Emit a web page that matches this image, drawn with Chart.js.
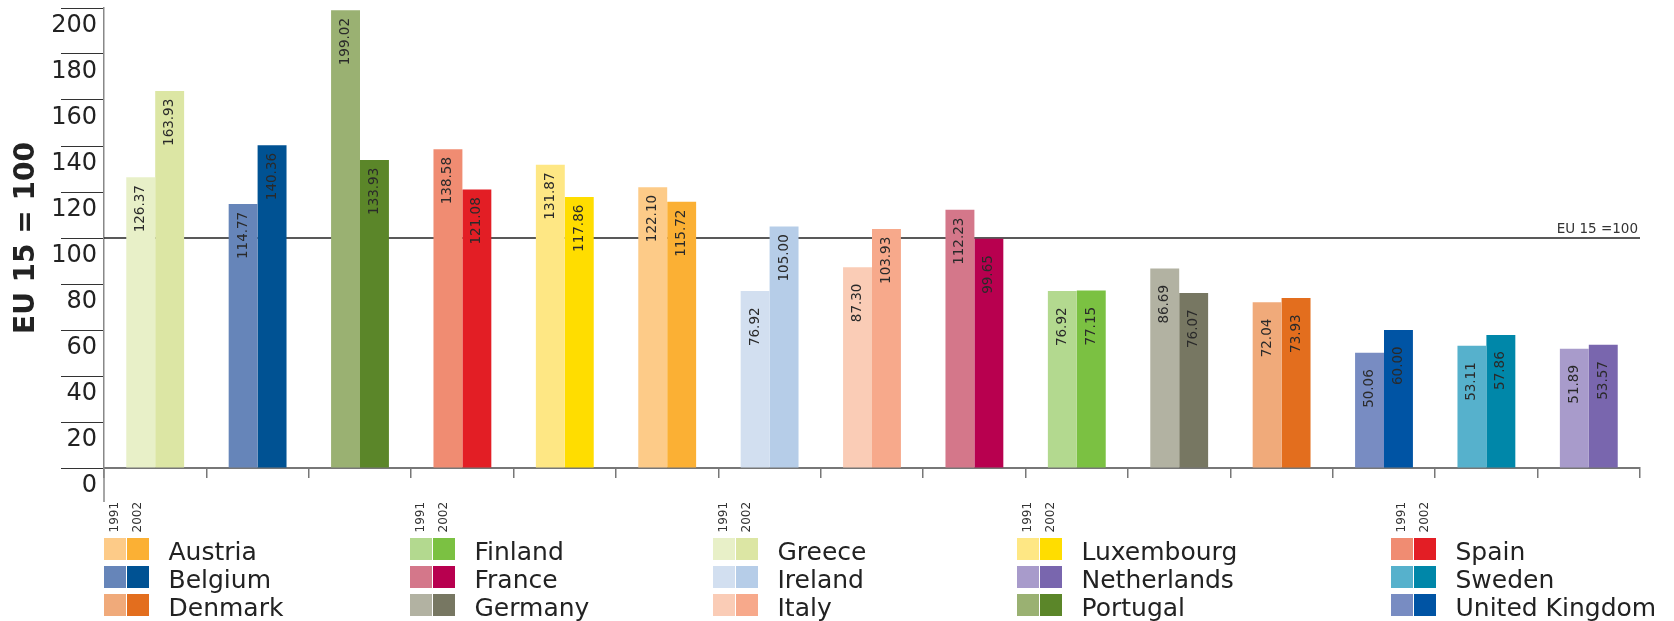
<!DOCTYPE html>
<html>
<head>
<meta charset="utf-8">
<script src="https://cdn.jsdelivr.net/npm/chart.js@4.4.1/dist/chart.umd.min.js"></script>
<style>
html,body{margin:0;padding:0;background:#fff;}
#wrap{width:1674px;height:621px;position:relative;}
</style>
</head>
<body>
<div id="wrap"><canvas id="c" width="1674" height="621"></canvas></div>
<script>
// ---- Data ----
const countries = ['Greece','Belgium','Portugal','Spain','Luxembourg','Austria','Ireland','Italy','France','Finland','Germany','Denmark','United Kingdom','Sweden','Netherlands'];
const years = ['1991','2002'];
const values1991 = [126.37,114.77,199.02,138.58,131.87,122.10,76.92,87.30,112.23,76.92,86.69,72.04,50.06,53.11,51.89];
const values2002 = [163.93,140.36,133.93,121.08,117.86,115.72,105.00,103.93,99.65,77.15,76.07,73.93,60.00,57.86,53.57];
const colors1991 = ['#E8F0C8','#6685B9','#9AB172','#F08C72','#FEE784','#FDCB88','#D2DFF0','#FACCB6','#D4778A','#B3D98F','#B2B2A2','#F0AA7A','#788CC2','#56B1CC','#A89BCB'];
const colors2002 = ['#DCE6A4','#005293','#5B8629','#E31E25','#FFDD00','#FBB034','#B6CDE8','#F7A98B','#B8004F','#7BC142','#777762','#E36E1E','#0054A4','#0087A9','#7966AE'];
const yMin = 0, yMax = 200, yStep = 20;
const referenceValue = 100;
const referenceLabel = 'EU 15 =100';
const axisTitle = 'EU 15 = 100';

const FONT = '"DejaVu Sans", Verdana, sans-serif';
Chart.defaults.font.family = FONT;

// reference line (behind bars)
const refLine = {
  id: 'refLine',
  beforeDatasetsDraw(chart) {
    const {ctx, chartArea} = chart;
    const y = chart.scales.y.getPixelForValue(referenceValue);
    ctx.save();
    ctx.strokeStyle = '#222';
    ctx.lineWidth = 1.5;
    ctx.beginPath();
    ctx.moveTo(chartArea.left, y);
    ctx.lineTo(chartArea.right, y);
    ctx.stroke();
    ctx.font = '13.5px ' + FONT;
    ctx.fillStyle = '#333';
    ctx.textAlign = 'right';
    ctx.textBaseline = 'alphabetic';
    ctx.fillText(referenceLabel, chartArea.right - 2, y - 5.5);
    ctx.restore();
  }
};

// value labels inside bars
const barLabels = {
  id: 'barLabels',
  afterDatasetsDraw(chart) {
    const ctx = chart.ctx;
    ctx.save();
    ctx.font = '13.5px ' + FONT;
    ctx.fillStyle = '#2a2a2a';
    ctx.textAlign = 'left';
    ctx.textBaseline = 'middle';
    chart.data.datasets.forEach((ds, di) => {
      chart.getDatasetMeta(di).data.forEach((bar, i) => {
        ctx.save();
        ctx.translate(bar.x, bar.y + 55);
        ctx.rotate(-Math.PI / 2);
        ctx.fillText(ds.data[i].toFixed(2), 0, 0);
        ctx.restore();
      });
    });
    ctx.restore();
  }
};

// axis extension + custom legend
const extras = {
  id: 'extras',
  afterDraw(chart) {
    const ctx = chart.ctx;
    const ys = chart.scales.y;
    const x0 = ys.right;
    const yb = ys.getPixelForValue(yMin);
    ctx.save();
    ctx.strokeStyle = '#888';
    ctx.lineWidth = 1.5;
    ctx.beginPath();
    ctx.moveTo(x0, yb);
    ctx.lineTo(x0, yb + 34);
    ctx.stroke();

    // legend
    const order = countries.map((c, i) => i).sort((a, b) => countries[a].localeCompare(countries[b]));
    const colX = [104, 410, 713, 1017, 1391];
    const rowTop = 538, rowPitch = 28, sw = 22, sh = 22;
    order.forEach((idx, k) => {
      const col = Math.floor(k / 3), row = k % 3;
      const x = colX[col], y = rowTop + row * rowPitch;
      ctx.fillStyle = colors1991[idx];
      ctx.fillRect(x, y, sw, sh);
      ctx.fillStyle = colors2002[idx];
      ctx.fillRect(x + sw + 1, y, sw, sh);
      ctx.fillStyle = '#222';
      ctx.font = '25px ' + FONT;
      ctx.textAlign = 'left';
      ctx.textBaseline = 'alphabetic';
      ctx.fillText(countries[idx], x + 64.5, y + 21.5);
      if (row === 0) {
        ctx.font = '12px ' + FONT;
        ctx.fillStyle = '#333';
        ctx.textBaseline = 'middle';
        years.forEach((yr, j) => {
          ctx.save();
          ctx.translate(x + sw / 2 + j * (sw + 1), y - 5.5);
          ctx.rotate(-Math.PI / 2);
          ctx.fillText(yr, 0, 0);
          ctx.restore();
        });
      }
    });
    ctx.restore();
  }
};

new Chart(document.getElementById('c'), {
  type: 'bar',
  data: {
    labels: countries,
    datasets: [
      { label: years[0], data: values1991, backgroundColor: colors1991, borderWidth: 0 },
      { label: years[1], data: values2002, backgroundColor: colors2002, borderWidth: 0 }
    ]
  },
  options: {
    responsive: false,
    devicePixelRatio: 1,
    animation: false,
    layout: { padding: { left: 0, top: 8, right: 34, bottom: 143 } },
    datasets: { bar: { categoryPercentage: 0.565, barPercentage: 1 } },
    plugins: { legend: { display: false }, tooltip: { enabled: false } },
    scales: {
      x: {
        ticks: { display: false },
        grid: { offset: true, drawOnChartArea: false, drawTicks: true, tickLength: 10, color: '#777', lineWidth: 1.5 },
        border: { display: true, color: '#777', width: 2 },
        afterFit(s) { s.height = 10; }
      },
      y: {
        min: yMin, max: yMax,
        ticks: { stepSize: yStep, autoSkip: false, padding: -36, labelOffset: 18, color: '#222', font: { size: 24 } },
        grid: { drawOnChartArea: false, drawTicks: true, tickLength: 43, color: '#333', lineWidth: 1 },
        border: { display: true, color: '#888', width: 1.5 },
        title: { display: true, text: axisTitle, color: '#222', font: { size: 28, weight: 'bold' }, padding: { top: 10, bottom: 0 } },
        afterFit(s) { s.width = 104; }
      }
    }
  },
  plugins: [refLine, barLabels, extras]
});
</script>
</body>
</html>
